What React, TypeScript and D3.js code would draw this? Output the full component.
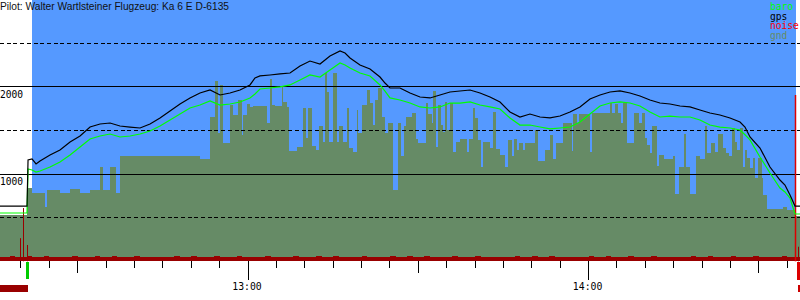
import React from "react";
import * as d3 from "d3";

const TITLE = "Pilot: Walter Wartlsteiner Flugzeug: Ka 6 E D-6135";
const legendNames = ["baro", "gps", "noise", "gnd"];
const solidLevels = [1000, 2000];
const dashedLevels = [500, 1500, 2500];
const labelLevels = [1000, 2000];
const hourTicks = [60, 120];
const hourLabels = ["13:00", "14:00"];
// minutes after 12:00
const timeDomain = [16.31, 157.24];
const altDomain = [0, 3000];

const sampleTime = [
  16.31, 21.07, 21.25, 21.95, 22.66, 23.36,
  25.12, 26.88, 28.65, 30.41, 32.17, 33.93, 35.69, 37.45, 39.21, 40.98, 42.74, 44.5, 46.26, 48.02, 49.78, 51.54, 53.31, 55.07, 56.83, 58.59, 60.35,
  61.23,
  62.11, 63.88, 65.64, 67.4, 69.16, 70.92, 72.68, 74.44, 76.21,
  77.09,
  77.97, 79.73, 81.49, 83.25,
  84.13,
  85.01, 86.77, 88.54, 90.3, 92.06, 93.82, 95.58, 97.34, 99.11, 100.87, 102.63, 104.39, 106.15, 107.91, 109.67, 111.44, 113.2, 114.96, 116.72, 118.48,
  120.24, 122.01, 123.77, 125.53, 127.29, 129.05, 130.81, 132.57, 134.34, 136.1, 137.86, 139.62, 141.38, 143.14, 144.91, 146.67,
  147.55,
  148.43, 150.19, 151.95, 153.71,
  154.59,
  155.48, 156.36, 157.24,
];

const gpsAlt = [
  633, 633, 1160, 1172, 1115, 1149,
  1218, 1275, 1367, 1435, 1538, 1573, 1584, 1550, 1538, 1527, 1573, 1642, 1722, 1802, 1871, 1928, 1962, 1905, 1928, 1962, 2020,
  2100,
  2123, 2134, 2146, 2157, 2237, 2294, 2260, 2352, 2409,
  2386,
  2329, 2249, 2203, 2111,
  2042,
  1985, 1985, 1928, 1882, 1871, 1905, 1939, 1951, 1962, 1928, 1882, 1825, 1710, 1653, 1687, 1653, 1642, 1664, 1710, 1768,
  1859, 1905, 1939, 1951, 1928, 1894, 1848, 1813, 1802, 1779, 1768, 1733, 1699, 1676, 1642, 1596,
  1538,
  1424, 1298, 1080, 931,
  874,
  759, 633, 633,
];

const baroAlt = [
  553, 553, 1057, 1046, 1023, 1034,
  1080, 1137, 1218, 1309, 1401, 1435, 1458, 1424, 1435, 1458, 1493, 1550, 1619, 1687, 1756, 1790, 1836, 1790, 1802, 1825, 1871,
  1916,
  1974, 1985, 1997, 2020, 2077, 2134, 2111, 2191, 2271,
  2249,
  2214, 2157, 2123, 2020,
  1950,
  1871, 1848, 1813, 1768, 1756, 1768, 1813, 1813, 1825, 1790, 1768, 1745, 1642, 1561, 1561, 1538, 1516, 1527, 1538, 1596,
  1687, 1779, 1813, 1825, 1813, 1779, 1710, 1653, 1664, 1653, 1653, 1619, 1561, 1538, 1527, 1504,
  1450,
  1390, 1195, 1011, 840,
  794,
  725, 542, 542,
];

const gndTime = [
  16.31, 21.07, 21.95, 24.24, 24.59, 26.88, 28.65, 30.41, 32.17, 33.93, 34.46, 35.69, 36.75, 37.45, 51.54,
  53.31, 54.19, 54.72, 55.07, 55.6, 56.83, 57.36, 58.24, 58.94, 59.12, 59.82, 60.35, 60.88, 63.35, 63.88,
  64.23, 64.76, 65.99, 66.17, 66.87, 67.22, 68.63, 69.69, 70.22, 70.57, 71.27, 71.98, 72.51, 73.21, 73.56,
  73.92, 74.27, 74.97, 75.68, 76.03, 76.73, 77.44, 77.79, 78.5, 79.2, 79.38, 80.08, 80.96, 81.49, 82.02,
  82.37, 82.9, 83.6, 84.13, 84.66, 85.54, 86.42, 86.95, 87.48, 87.83, 88.89, 89.59, 89.95, 91.35, 91.71,
  92.41, 92.59, 93.12, 93.47, 94.0, 94.35, 94.7, 95.05, 95.58, 96.11, 96.64, 97.34, 98.58, 98.93, 99.63,
  99.99, 100.51, 101.04, 101.4, 102.63, 103.16, 103.69, 104.39, 105.27, 105.8, 106.5, 106.86, 107.38, 107.74, 108.44,
  108.79, 110.56, 111.08, 112.32, 113.2, 113.73, 114.25, 115.49, 117.08, 117.25, 117.96, 118.31, 120.24, 120.6, 123.77,
  124.12, 124.65, 125.18, 125.7, 126.06, 126.76, 128.0, 128.88, 129.4, 129.93, 130.28, 130.81, 131.16, 132.05, 132.4,
  133.28, 134.87, 135.22, 135.92, 136.8, 137.15, 137.86, 138.92, 139.62, 140.5, 140.85, 141.56, 142.26, 142.79, 143.67,
  144.2, 144.73, 145.26, 145.79, 146.14, 146.67, 147.2, 147.55, 147.9, 148.43, 148.96, 149.31, 149.84, 150.55, 150.73,
  151.43, 154.25, 154.96, 156.53,
];

const gndAlt = [
  530, 840, 783, 622, 817, 783, 828, 783, 817, 1080, 817, 1080, 783, 1206, 1172,
  1653, 2065, 1470, 2020, 1355, 1790, 1676, 1848, 1447, 1676, 1802, 1768, 1779, 1584, 2088,
  1790, 1779, 2008, 1825, 1768, 1264, 1309, 1756, 1412, 1756, 1321, 1275, 1550, 1367, 2157,
  1939, 1367, 2157, 1367, 1550, 1367, 1756, 1298, 1252, 1733, 1470, 1790, 1962, 1813, 1561,
  1848, 1985, 1653, 1470, 1584, 817, 1584, 1206, 1550, 1653, 1699, 1401, 1355, 1813, 1687,
  1584, 1951, 1309, 1790, 1561, 1481, 1825, 1504, 1813, 1252, 1367, 1401, 1252, 1401, 1756,
  1642, 1390, 1080, 1367, 1298, 1710, 1286, 1218, 1080, 1390, 1206, 1401, 1275, 1355, 1275,
  1355, 1504, 1149, 1275, 1447, 1172, 1355, 1584, 1264, 1687, 1584, 1687, 1252, 1699, 1813,
  1699, 1802, 1699, 1584, 1813, 1355, 1699, 1584, 1699, 1412, 1332, 1241, 1550, 1092, 1218,
  1172, 1206, 771, 1080, 1458, 1080, 771, 1206, 1172, 1550, 1241, 1355, 1252, 1458, 1298,
  1241, 1206, 1527, 1367, 1275, 1527, 1080, 1275, 1183, 1069, 1183, 954, 1183, 954, 759,
  599, 622, 588, 519,
];

const noiseStartMin = 16;
const noiseVal = [
  50, 47, 55, 44, 52, 58, 46, 51, 57, 48,
  53, 45, 50, 56, 47, 52, 49, 60, 46, 51,
  55, 48, 53, 45, 58, 50, 47, 54, 49, 52,
  46, 57, 51, 48, 55, 44, 53, 50, 59, 47,
  52, 49, 56, 45, 51, 54, 48, 60, 46, 50,
  53, 47, 57, 49, 52, 45, 55, 50, 48, 58,
  46, 51, 54, 47, 56, 50, 44, 53, 49, 57,
  48, 52, 60, 46, 50, 55, 47, 53, 49, 51,
  56, 45, 52, 48, 58, 50, 47, 54, 46, 53,
  49, 57, 51, 45, 55, 48, 52, 60, 47, 50,
  54, 46, 53, 49, 56, 51, 45, 58, 48, 52,
  47, 55, 50, 53, 46, 57, 49, 51, 44, 54,
  50, 48, 56, 52, 47, 59, 45, 53, 50, 55,
  48, 52, 46, 57, 51, 49, 53, 47, 55, 50,
  52, 49,
];
const spikeTime = [19.84, 20.37, 21.07, 156.36, 156.89];
const spikeVal = [265, 610, 187, 1905, 167];

const skyStart = 21.95;
const skyEnd = 156.53;
const takeoffTime = 21.16;
const landingTime = 156.97;

const SKY = "#5599ff";
const GND = "#668b66";
const NOISE_DARK = "#990000";
const NOISE_BRIGHT = "#dd0000";
const BARO = "#00ff00";
const GPS = "#000000";
const legendColors = [BARO, GPS, "#ff0000", GND];

export default function App() {
  const W = 800;
  const H = 300;
  const x = d3.scaleLinear().domain(timeDomain).range([0, W]);
  const y = d3.scaleLinear().domain(altDomain).range([261.3, -0.6]);
  const yBase = y(0);

  const gndPts: [number, number][] = gndTime.map((t, i) => [t, gndAlt[i]]);
  gndPts.push([timeDomain[1] + 1, gndAlt[gndAlt.length - 1]]);
  const gndArea = d3
    .area<[number, number]>()
    .x((d) => x(d[0]))
    .y0(yBase)
    .y1((d) => y(d[1]))
    .curve(d3.curveStepAfter)(gndPts);

  const noisePts: [number, number][] = noiseVal.map((v, i) => [noiseStartMin + i, v]);
  noisePts.push([noiseStartMin + noiseVal.length, noiseVal[noiseVal.length - 1]]);
  const noiseArea = d3
    .area<[number, number]>()
    .x((d) => x(d[0]))
    .y0(yBase)
    .y1((d) => y(d[1]))
    .curve(d3.curveStepAfter)(noisePts);

  const line = d3
    .line<number>()
    .x((_, i) => x(sampleTime[i]))
    .y((d) => y(d));
  const gpsPath = line(gpsAlt);
  const baroPath = line(baroAlt);

  const ticks = d3.range(20, 157, 5);
  const mono = "'DejaVu Sans Mono', monospace";

  return (
    <svg
      width={W}
      height={H}
      style={{ position: "absolute", left: 0, top: 0, display: "block", background: "#fff" }}
    >
      <rect x={0} y={0} width={W} height={H} fill="#ffffff" />
      <rect
        x={x(skyStart)}
        y={0}
        width={x(skyEnd) - x(skyStart)}
        height={yBase}
        fill={SKY}
        shapeRendering="crispEdges"
      />
      <path d={gndArea || ""} fill={GND} shapeRendering="crispEdges" />
      <path d={noiseArea || ""} fill={NOISE_DARK} shapeRendering="crispEdges" />
      {solidLevels.map((v) => (
        <line key={"s" + v} x1={0} x2={W} y1={y(v)} y2={y(v)} stroke="#000" strokeWidth={1} shapeRendering="crispEdges" />
      ))}
      {dashedLevels.map((v) => (
        <line
          key={"d" + v}
          x1={0}
          x2={W}
          y1={y(v)}
          y2={y(v)}
          stroke="#000"
          strokeWidth={1}
          strokeDasharray="4,2.7"
          shapeRendering="crispEdges"
        />
      ))}
      {spikeTime.map((t, i) => (
        <line
          key={"sp" + i}
          x1={Math.round(x(t)) + 0.5}
          x2={Math.round(x(t)) + 0.5}
          y1={yBase}
          y2={y(spikeVal[i])}
          stroke={spikeVal[i] > 1000 ? NOISE_BRIGHT : NOISE_DARK}
          strokeWidth={spikeVal[i] > 1000 ? 1.5 : 1}
        />
      ))}
      <path d={baroPath || ""} fill="none" stroke={BARO} strokeWidth={1.2} strokeLinejoin="miter" />
      <path d={gpsPath || ""} fill="none" stroke={GPS} strokeWidth={1.2} strokeLinejoin="miter" />

      {labelLevels.map((v) => (
        <text key={"l" + v} x={0} y={y(v) + 10.8} fontFamily={mono} fontSize={9.6} fill="#000">
          {v}
        </text>
      ))}

      {ticks.map((t) => {
        const len = t % 60 === 0 ? 19 : t % 30 === 0 ? 12 : 7;
        return (
          <line
            key={"t" + t}
            x1={x(t)}
            x2={x(t)}
            y1={yBase}
            y2={yBase + len}
            stroke="#000"
            strokeWidth={1}
            shapeRendering="crispEdges"
          />
        );
      })}
      {hourTicks.map((t, i) => (
        <text key={"h" + t} x={x(t) - 1} y={289.5} textAnchor="middle" fontFamily={mono} fontSize={9.8} fill="#000">
          {hourLabels[i]}
        </text>
      ))}

      <rect x={x(takeoffTime) - 1.5} y={262} width={3} height={17} fill="#00cc00" shapeRendering="crispEdges" />
      <rect x={0} y={285} width={x(takeoffTime) + 0.5} height={7} fill={NOISE_DARK} shapeRendering="crispEdges" />
      <rect x={x(landingTime) - 1.5} y={262} width={3.5} height={18} fill={NOISE_BRIGHT} shapeRendering="crispEdges" />
      <rect x={x(landingTime) - 0.3} y={285} width={3} height={7} fill="#cc0000" shapeRendering="crispEdges" />

      <text x={0} y={9.5} fontFamily="'Liberation Sans', Arial, sans-serif" fontSize={10} fill="#111" textLength={229} lengthAdjust="spacingAndGlyphs">
        {TITLE}
      </text>

      {legendNames.map((n, i) => (
        <text key={n} x={770} y={10 + i * 9.5} fontFamily={mono} fontSize={9.6} fill={legendColors[i]}>
          {n}
        </text>
      ))}
    </svg>
  );
}
